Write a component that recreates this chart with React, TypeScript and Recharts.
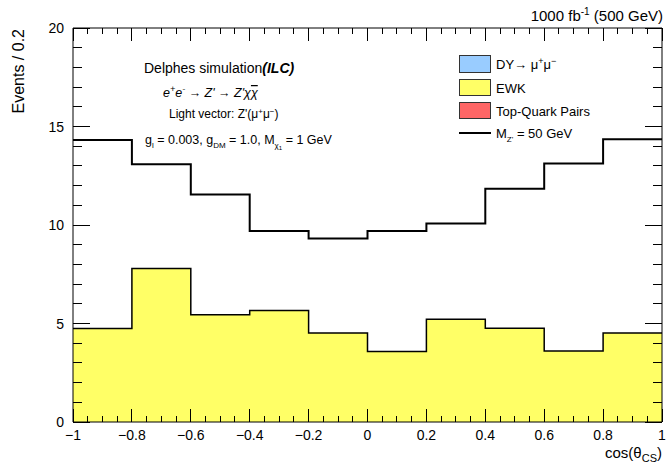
import React from "react";
import { ComposedChart, Area, Line, XAxis, YAxis, ReferenceLine } from "recharts";

// bin edges of cos(theta_CS), 10 bins of width 0.2
const binEdges = [-1, -0.8, -0.6, -0.4, -0.2, 0, 0.2, 0.4, 0.6, 0.8, 1];
// EWK background, events per bin
const ewk = [4.75, 7.79, 5.44, 5.66, 4.52, 3.58, 5.22, 4.76, 3.61, 4.52];
// M_Z' = 50 GeV signal (stacked), events per bin
const signal = [14.31, 13.08, 11.55, 9.7, 9.32, 9.69, 10.08, 11.84, 13.12, 14.35];

const xMajorLabels = ["−1", "−0.8", "−0.6", "−0.4", "−0.2", "0", "0.2", "0.4", "0.6", "0.8", "1"];
const yMajorLabels = ["0", "5", "10", "15", "20"];

const FONT = "'Liberation Sans', Arial, Helvetica, sans-serif";

const W = 670;
const H = 464;
const MARGIN = { top: 28, right: 8, bottom: 12, left: 43 };
const X_AXIS_H = 30;
const Y_AXIS_W = 30;
const PLOT_W = W - MARGIN.left - MARGIN.right - Y_AXIS_W;
const PLOT_H = H - MARGIN.top - MARGIN.bottom - X_AXIS_H;

// step histograms: repeat last bin content at the upper edge
const data = binEdges.map((x, i) => ({
  x,
  ewk: ewk[Math.min(i, ewk.length - 1)],
  signal: signal[Math.min(i, signal.length - 1)],
}));

const xTicks: number[] = [];
for (let i = 0; i <= 40; i++) xTicks.push(Math.round((-1 + i * 0.05) * 100) / 100);
const yTicks: number[] = [];
for (let i = 0; i <= 20; i++) yTicks.push(i);

const isMajorX = (v: number) => Math.abs(v * 5 - Math.round(v * 5)) < 1e-6;
const isMajorY = (v: number) => v % 5 === 0;

// ROOT-style ticks pointing into the frame, on both opposite sides
const XTick = (props: any) => {
  const { x, y, payload } = props;
  const major = isMajorX(payload.value);
  const len = major ? 13 : 6;
  const top = y - PLOT_H;
  const idx = Math.round((payload.value + 1) * 5);
  return (
    <g>
      <path
        d={`M${x},${y}L${x},${y - len}M${x},${top}L${x},${top + len}`}
        stroke="#000"
        strokeWidth={1}
        fill="none"
        shapeRendering="crispEdges"
      />
      {major && (
        <text x={x} y={y + 18} textAnchor="middle" fontSize={14} fontFamily={FONT} fill="#000">
          {xMajorLabels[idx]}
        </text>
      )}
    </g>
  );
};

const YTick = (props: any) => {
  const { x, y, payload } = props;
  const major = isMajorY(payload.value);
  const len = major ? 17 : 9;
  const right = x + PLOT_W;
  return (
    <g>
      <path
        d={`M${x},${y}L${x + len},${y}M${right},${y}L${right - len},${y}`}
        stroke="#000"
        strokeWidth={1}
        fill="none"
        shapeRendering="crispEdges"
      />
      {major && (
        <text x={x - 9} y={y} dy="0.36em" textAnchor="end" fontSize={14} fontFamily={FONT} fill="#000">
          {yMajorLabels[payload.value / 5]}
        </text>
      )}
    </g>
  );
};

function Overlay() {
  return (
    <svg
      width={W}
      height={H}
      style={{ position: "absolute", left: 0, top: 0, pointerEvents: "none" }}
      fontFamily={FONT}
    >
      {/* axis titles */}
      <text x={24} y={29} transform="rotate(-90 24 29)" textAnchor="end" fontSize={16} fill="#000">
        Events / 0.2
      </text>
      <text x={662} y={458} textAnchor="end" fontSize={15} fill="#000">
        cos(θ<tspan fontSize={11} dy={4}>CS</tspan>
        <tspan dy={-4}>)</tspan>
      </text>
      <text x={663} y={21} textAnchor="end" fontSize={15} fill="#000">
        1000 fb<tspan fontSize={10} dy={-6}>-1</tspan>
        <tspan dy={6}> (500 GeV)</tspan>
      </text>

      {/* annotations */}
      <text x={144} y={73} fontSize={14} fill="#000">
        Delphes simulation<tspan fontWeight="bold" fontStyle="italic">(ILC)</tspan>
      </text>
      <text x={163} y={97} fontSize={12.5} fontStyle="italic" fill="#000">
        e<tspan fontSize={9} dy={-5}>+</tspan>
        <tspan dy={5}>e</tspan>
        <tspan fontSize={9} dy={-5}>-</tspan>
        <tspan dy={5}> → Z' → Z'χ</tspan>
        <tspan textDecoration="overline">χ</tspan>
      </text>
      <text x={169} y={118} fontSize={12} fill="#000">
        Light vector: Z'(μ<tspan fontSize={8} dy={-4}>+</tspan>
        <tspan dy={4}>μ</tspan>
        <tspan fontSize={8} dy={-4}>−</tspan>
        <tspan dy={4}>)</tspan>
      </text>
      <text x={145} y={144} fontSize={12.5} fill="#000">
        g<tspan fontSize={8} dy={4}>l</tspan>
        <tspan dy={-4}> = 0.003, g</tspan>
        <tspan fontSize={8} dy={4}>DM</tspan>
        <tspan dy={-4}> = 1.0, M</tspan>
        <tspan fontSize={8} dy={4}>χ</tspan>
        <tspan fontSize={6} dy={2}>1</tspan>
        <tspan dy={-6}> = 1 GeV</tspan>
      </text>

      {/* legend */}
      <rect x={459.5} y={55.5} width={31} height={17} fill="#99ccff" stroke="#333" strokeWidth={1} />
      <text x={496} y={69} fontSize={13} fill="#000">
        DY→ μ<tspan fontSize={9} dy={-5}>+</tspan>
        <tspan dy={5}>μ</tspan>
        <tspan fontSize={9} dy={-5}>−</tspan>
      </text>
      <rect x={459.5} y={79.5} width={31} height={16} fill="#ffff66" stroke="#333" strokeWidth={1} />
      <text x={496} y={93} fontSize={13} fill="#000">EWK</text>
      <rect x={459.5} y={102.5} width={31} height={16} fill="#ff6666" stroke="#333" strokeWidth={1} />
      <text x={496} y={116} fontSize={13} fill="#000">Top-Quark Pairs</text>
      <line x1={459} y1={133} x2={491} y2={133} stroke="#000" strokeWidth={2} />
      <text x={496} y={138} fontSize={13} fill="#000">
        M<tspan fontSize={8} dy={4}>Z'</tspan>
        <tspan dy={-4}> = 50 GeV</tspan>
      </text>
    </svg>
  );
}

export default function App() {
  return (
    <div style={{ position: "absolute", left: 0, top: 0, width: W, height: H, background: "#fff" }}>
      <ComposedChart width={W} height={H} data={data} margin={MARGIN}>
        <Area
          type="stepAfter"
          dataKey="ewk"
          fill="#ffff66"
          fillOpacity={1}
          stroke="#000"
          strokeWidth={1.5}
          baseValue={0}
          isAnimationActive={false}
        />
        <Line
          type="stepAfter"
          dataKey="signal"
          stroke="#000"
          strokeWidth={2}
          dot={false}
          isAnimationActive={false}
        />
        <XAxis
          type="number"
          dataKey="x"
          domain={[-1, 1]}
          ticks={xTicks}
          interval={0}
          height={X_AXIS_H}
          tickSize={0}
          tickMargin={0}
          tickLine={false}
          axisLine={{ stroke: "#000", strokeWidth: 1 }}
          tick={(p: any) => <XTick {...p} />}
          allowDataOverflow
        />
        <YAxis
          type="number"
          domain={[0, 20]}
          ticks={yTicks}
          interval={0}
          width={Y_AXIS_W}
          tickSize={0}
          tickMargin={0}
          tickLine={false}
          axisLine={{ stroke: "#000", strokeWidth: 1 }}
          tick={(p: any) => <YTick {...p} />}
          allowDataOverflow
        />
        {/* frame: top and right edges */}
        <ReferenceLine y={20} stroke="#000" strokeWidth={1} ifOverflow="visible" />
        <ReferenceLine x={1} stroke="#000" strokeWidth={1} ifOverflow="visible" />
      </ComposedChart>
      <Overlay />
    </div>
  );
}
